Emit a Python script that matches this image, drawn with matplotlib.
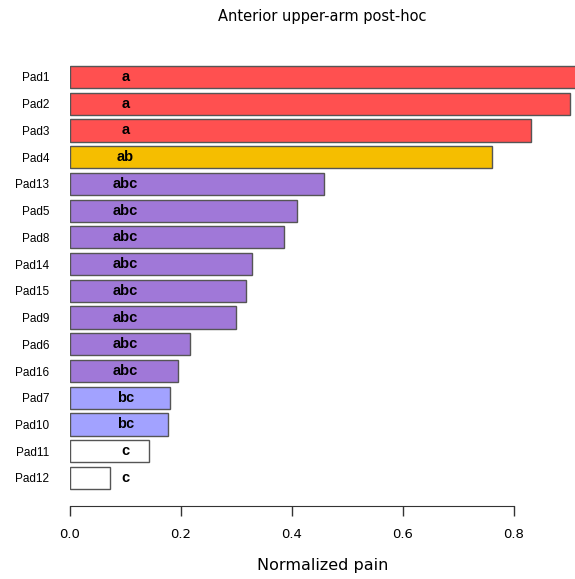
import numpy as np
import matplotlib.pyplot as plt

pads = ["Pad1", "Pad2", "Pad3", "Pad4", "Pad13", "Pad5", "Pad8", "Pad14",
        "Pad15", "Pad9", "Pad6", "Pad16", "Pad7", "Pad10", "Pad11", "Pad12"]
pain = [0.95, 0.901, 0.831, 0.760, 0.458, 0.409, 0.386, 0.328,
        0.317, 0.299, 0.216, 0.195, 0.180, 0.177, 0.142, 0.072]
groups = ["a", "a", "a", "ab", "abc", "abc", "abc", "abc",
          "abc", "abc", "abc", "abc", "bc", "bc", "c", "c"]

group_colors = {"a": "#FF5050", "ab": "#F5BE00", "abc": "#A078D8",
                "bc": "#A2A2FF", "c": "#FFFFFF"}

W, H = 575, 579
fig = plt.figure(figsize=(W / 100, H / 100), dpi=100)
ax = fig.add_axes([70 / W, (H - 506) / H, 1 - 70 / W, 446 / H])

y = np.arange(len(pads))
ax.barh(y, pain, height=0.83, color=[group_colors[g] for g in groups],
        edgecolor="#555555", linewidth=1.0)

for yi, g in zip(y, groups):
    ax.text(0.1, yi, g, ha="center", va="center", fontsize=10.5,
            fontweight="bold", color="black", family="Liberation Sans")

ax.set_xlim(0, 0.91)
ax.set_ylim(16.05, -0.636)
ax.set_yticks(y)
ax.set_yticklabels(pads, fontsize=8.5, family="Liberation Sans")
ax.tick_params(axis="y", length=0, pad=15)
ax.set_xticks([0.0, 0.2, 0.4, 0.6, 0.8])
ax.set_xticklabels(["0.0", "0.2", "0.4", "0.6", "0.8"], fontsize=9.5)
ax.tick_params(axis="x", length=7, width=1, pad=9, color="#333333")

for s in ["top", "right", "left"]:
    ax.spines[s].set_visible(False)
ax.spines["bottom"].set_bounds(0, 0.8)
ax.spines["bottom"].set_color("#333333")

ax.set_xlabel("Normalized pain", fontsize=11.5, labelpad=12)
fig.text(322 / W, 1 - 17 / H, "Anterior upper-arm post-hoc", ha="center",
         va="center", fontsize=10.5)

fig.savefig("out.png", dpi=100)
